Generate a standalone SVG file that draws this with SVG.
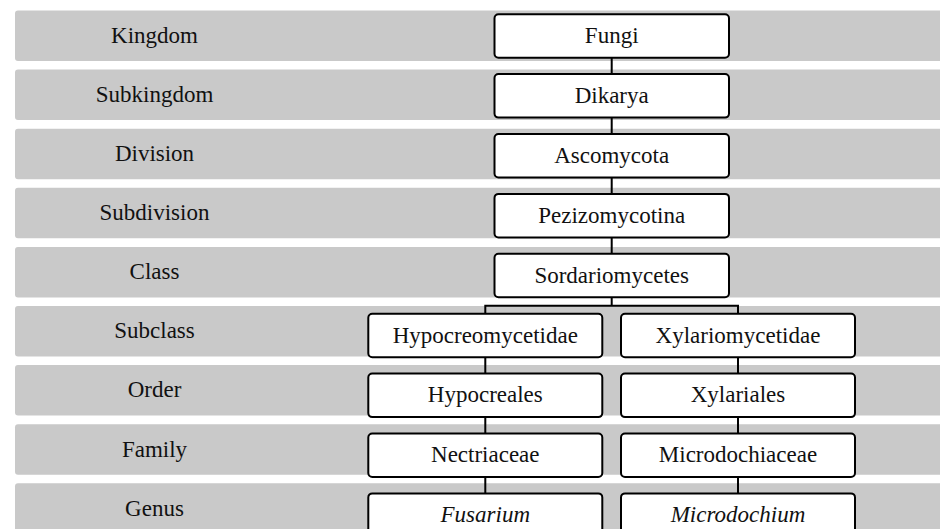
<svg xmlns="http://www.w3.org/2000/svg" width="940" height="529" viewBox="0 0 940 529">
<style>
.band{fill:#c9c9c9}
.box{fill:#ffffff;stroke:#000000;stroke-width:2}
.t{font-family:"Liberation Serif","Times New Roman",serif;font-size:23px;fill:#111111;text-anchor:middle}
.it{font-style:italic}
.conn{fill:none;stroke:#000000;stroke-width:2}
</style>
<rect x="0" y="0" width="940" height="529" fill="#ffffff"/>
<g id="bands">
<g id="row-kingdom"><rect class="band" x="15" y="10.5" width="930" height="50.5" rx="3"/><text class="t" x="154.5" y="42.8">Kingdom</text></g>
<g id="row-subkingdom"><rect class="band" x="15" y="69.6" width="930" height="50.5" rx="3"/><text class="t" x="154.5" y="101.9">Subkingdom</text></g>
<g id="row-division"><rect class="band" x="15" y="128.7" width="930" height="50.5" rx="3"/><text class="t" x="154.5" y="161">Division</text></g>
<g id="row-subdivision"><rect class="band" x="15" y="187.8" width="930" height="50.5" rx="3"/><text class="t" x="154.5" y="220.1">Subdivision</text></g>
<g id="row-class"><rect class="band" x="15" y="246.9" width="930" height="50.5" rx="3"/><text class="t" x="154.5" y="279.2">Class</text></g>
<g id="row-subclass"><rect class="band" x="15" y="306" width="930" height="50.5" rx="3"/><text class="t" x="154.5" y="338.3">Subclass</text></g>
<g id="row-order"><rect class="band" x="15" y="365.1" width="930" height="50.5" rx="3"/><text class="t" x="154.5" y="397.4">Order</text></g>
<g id="row-family"><rect class="band" x="15" y="424.2" width="930" height="50.5" rx="3"/><text class="t" x="154.5" y="456.5">Family</text></g>
<g id="row-genus"><rect class="band" x="15" y="483.3" width="930" height="50.5" rx="3"/><text class="t" x="154.5" y="515.6">Genus</text></g>
</g>
<g id="connectors">
<path class="conn" d="M611.7 57.7V74.1M611.7 117.6V134M611.7 177.5V193.9M611.7 237.4V253.8"/>
<path class="conn" d="M611.7 297.3V305.7M485.3 313.7V305.7H738V313.7"/>
<path class="conn" d="M485.3 357.2V373.6M485.3 417.1V433.5M485.3 477V493.4"/>
<path class="conn" d="M738 357.2V373.6M738 417.1V433.5M738 477V493.4"/>
</g>
<g id="fungi"><rect class="box" x="494.5" y="14.2" width="234.5" height="43.5" rx="4"/><text class="t" x="611.7" y="43">Fungi</text></g>
<g id="dikarya"><rect class="box" x="494.5" y="74.1" width="234.5" height="43.5" rx="4"/><text class="t" x="611.7" y="102.9">Dikarya</text></g>
<g id="ascomycota"><rect class="box" x="494.5" y="134" width="234.5" height="43.5" rx="4"/><text class="t" x="611.7" y="162.8">Ascomycota</text></g>
<g id="pezizomycotina"><rect class="box" x="494.5" y="193.9" width="234.5" height="43.5" rx="4"/><text class="t" x="611.7" y="222.7">Pezizomycotina</text></g>
<g id="sordariomycetes"><rect class="box" x="494.5" y="253.8" width="234.5" height="43.5" rx="4"/><text class="t" x="611.7" y="282.6">Sordariomycetes</text></g>
<g id="hypocreomycetidae"><rect class="box" x="368.3" y="313.7" width="234" height="43.5" rx="4"/><text class="t" x="485.3" y="342.5">Hypocreomycetidae</text></g>
<g id="xylariomycetidae"><rect class="box" x="621" y="313.7" width="234" height="43.5" rx="4"/><text class="t" x="738" y="342.5">Xylariomycetidae</text></g>
<g id="hypocreales"><rect class="box" x="368.3" y="373.6" width="234" height="43.5" rx="4"/><text class="t" x="485.3" y="402.4">Hypocreales</text></g>
<g id="xylariales"><rect class="box" x="621" y="373.6" width="234" height="43.5" rx="4"/><text class="t" x="738" y="402.4">Xylariales</text></g>
<g id="nectriaceae"><rect class="box" x="368.3" y="433.5" width="234" height="43.5" rx="4"/><text class="t" x="485.3" y="462.3">Nectriaceae</text></g>
<g id="microdochiaceae"><rect class="box" x="621" y="433.5" width="234" height="43.5" rx="4"/><text class="t" x="738" y="462.3">Microdochiaceae</text></g>
<g id="fusarium"><rect class="box" x="368.3" y="493.4" width="234" height="43.5" rx="4"/><text class="t it" x="485.3" y="522.2">Fusarium</text></g>
<g id="microdochium"><rect class="box" x="621" y="493.4" width="234" height="43.5" rx="4"/><text class="t it" x="738" y="522.2">Microdochium</text></g>
</svg>
